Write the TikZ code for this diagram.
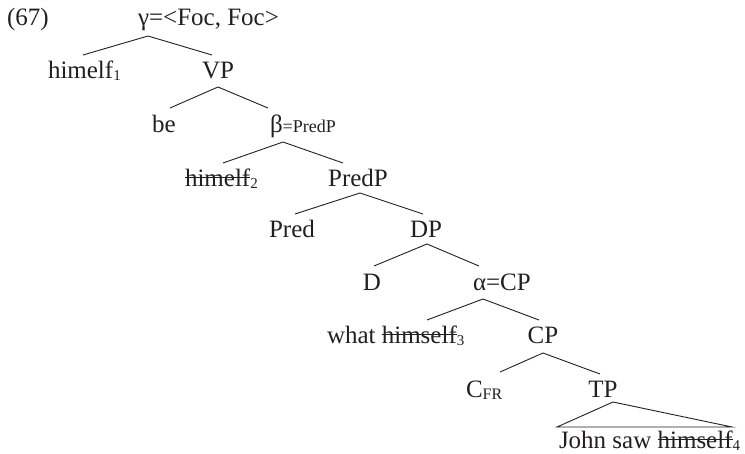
\documentclass[tikz,border=0pt]{standalone}
\usepackage{fontspec}
\setmainfont{Liberation Serif}
\definecolor{ink}{RGB}{35,31,32}
% small lowered index after a word
\newcommand\lsub[1]{\raisebox{-2pt}{\fontsize{15}{15}\selectfont #1}}
% word struck through by a horizontal rule
\newcommand\crossout[1]{\setbox0\hbox{#1}\rlap{\rule[8pt]{\wd0}{0.9pt}}\box0}
\begin{document}
\begin{tikzpicture}[x=1pt,y=-1pt,
  every node/.style={inner sep=0pt,outer sep=0pt,text=ink,font=\fontsize{25}{30}\selectfont},
  lw/.style={anchor=base west},
  branch/.style={draw=ink,line width=0.9pt}]
\useasboundingbox (0,0) rectangle (745,453);

% labels
\node[lw] (num) at (7,25) {(67)};
\node[lw] (g) at (138,25) {γ=<Foc, Foc>};
\node[lw] (h1) at (48,78) {himelf\lsub{1}};
\node[anchor=base] (vp) at (218,78) {VP};
\node[anchor=base] (be) at (164,132) {be};
\node[lw] (b) at (270,132) {β{\fontsize{18}{20}\selectfont =PredP}};
\node[lw] (h2) at (185,186) {\crossout{himelf}\lsub{2}};
\node[anchor=base] (predp) at (358,186) {PredP};
\node[anchor=base] (pred) at (292,237) {Pred};
\node[anchor=base] (dp) at (426,237) {DP};
\node[anchor=base] (d) at (372,290) {D};
\node[lw] (a) at (473,290) {α=CP};
\node[lw] (wh) at (327,343) {what \crossout{himself}\lsub{3}};
\node[anchor=base] (cp) at (543,343) {CP};
\node[lw] (cfr) at (466,397) {C\raisebox{-2pt}{\fontsize{16}{16}\selectfont FR}};
\node[anchor=base] (tp) at (603,397) {TP};
\node[lw] (js) at (559,448) {John saw \crossout{himself}\lsub{4}};

% branching points below each mother
\coordinate (g-b) at (148,36);
\coordinate (vp-b) at (218,87);
\coordinate (b-b) at (283,142);
\coordinate (predp-b) at (360,193);
\coordinate (dp-b) at (427,244);
\coordinate (a-b) at (483,299);
\coordinate (cp-b) at (543,353);
\coordinate (tp-b) at (613,402);

% attachment points above each daughter
\coordinate (h1-t) at (83,55);
\coordinate (vp-t) at (212,55);
\coordinate (be-t) at (170,108);
\coordinate (b-t) at (268,108);
\coordinate (h2-t) at (223,163);
\coordinate (predp-t) at (343,163);
\coordinate (pred-t) at (295,214);
\coordinate (dp-t) at (423,214);
\coordinate (d-t) at (374,266);
\coordinate (a-t) at (479,266);
\coordinate (wh-t) at (427,320);
\coordinate (cp-t) at (539,320);
\coordinate (cfr-t) at (500,372);
\coordinate (tp-t) at (600,374);
\coordinate (js-l) at (557,427);
\coordinate (js-r) at (732,427);

% branches
\draw[branch] (h1-t) -- (g-b) -- (vp-t);
\draw[branch] (be-t) -- (vp-b) -- (b-t);
\draw[branch] (h2-t) -- (b-b) -- (predp-t);
\draw[branch] (pred-t) -- (predp-b) -- (dp-t);
\draw[branch] (d-t) -- (dp-b) -- (a-t);
\draw[branch] (wh-t) -- (a-b) -- (cp-t);
\draw[branch] (cfr-t) -- (cp-b) -- (tp-t);
\draw[branch] (js-l) -- (tp-b) -- (js-r) -- cycle;
\end{tikzpicture}
\end{document}
